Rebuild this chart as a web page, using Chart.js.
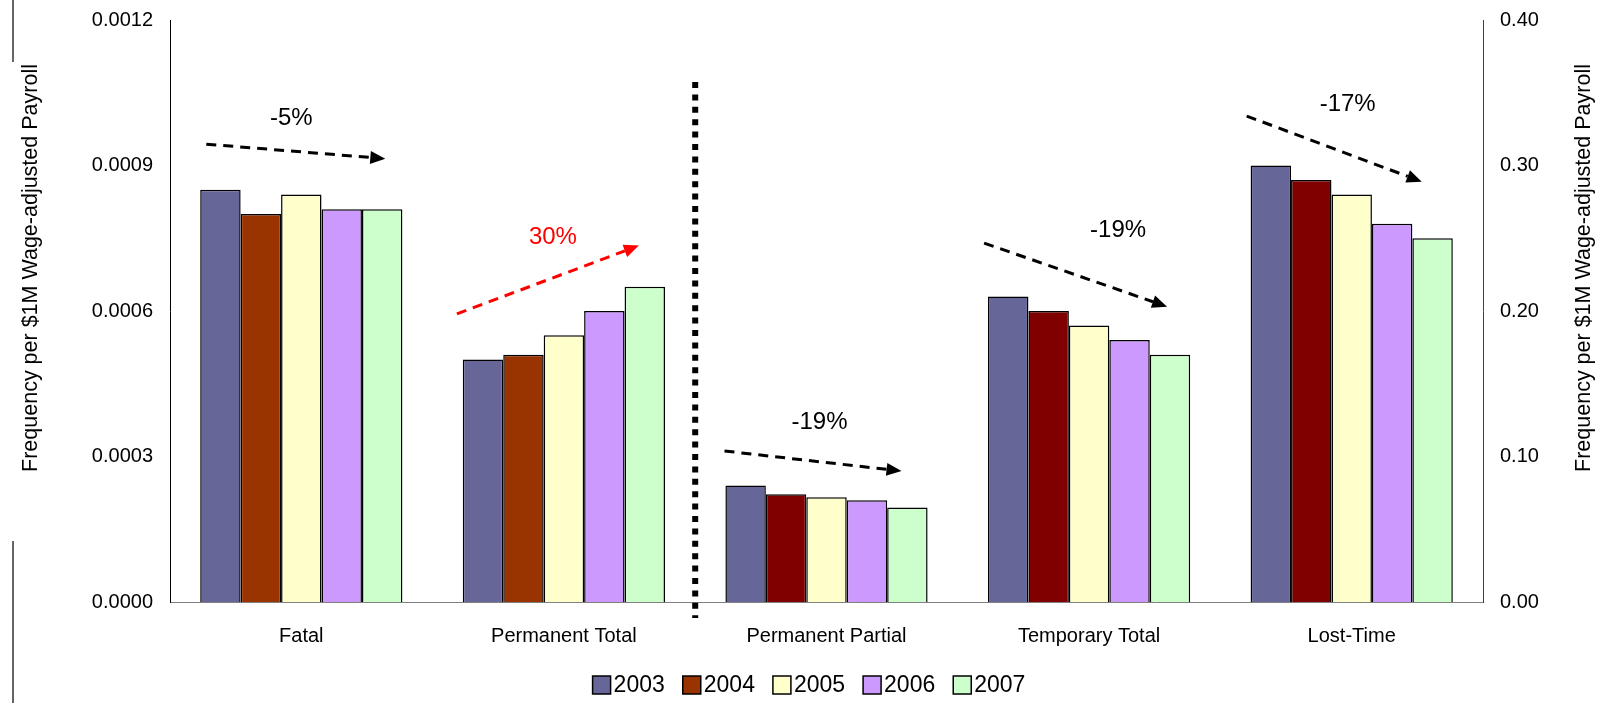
<!DOCTYPE html>
<html lang="en">
<head>
  <meta charset="UTF-8" />
  <title>Claim Frequency by Injury Type</title>
  <script src="https://cdn.jsdelivr.net/npm/chart.js"></script>
  <style>
    html, body {
      margin: 0;
      padding: 0;
      background: #fff;
    }
    .wrap {
      width: 1604px;
      height: 703px;
    }
  </style>
</head>
<body>
  <div class="wrap"><canvas id="freqChart"></canvas></div>

  <script>
    const categories = ['Fatal', 'Permanent Total', 'Permanent Partial', 'Temporary Total', 'Lost-Time'];
    const years = ['2003', '2004', '2005', '2006', '2007'];

    // left axis groups
    const fatal = [0.00085, 0.00080, 0.00084, 0.00081, 0.00081];
    const permanentTotal = [0.00050, 0.00051, 0.00055, 0.00060, 0.00065];
    // right axis groups
    const permanentPartial = [0.080, 0.074, 0.072, 0.070, 0.065];
    const temporaryTotal = [0.210, 0.200, 0.190, 0.180, 0.170];
    const lostTime = [0.300, 0.290, 0.280, 0.260, 0.250];

    const leftTicks = [0, 0.0003, 0.0006, 0.0009, 0.0012];
    const rightTicks = [0, 0.10, 0.20, 0.30, 0.40];
    const trendLabels = ['-5%', '30%', '-19%', '-19%', '-17%'];

    const leftColors = ['#666699', '#993300', '#ffffcc', '#cc99ff', '#ccffcc'];
    const rightColors = ['#666699', '#800000', '#ffffcc', '#cc99ff', '#ccffcc'];
    const FONT = "'Liberation Sans', Arial, sans-serif";

    const datasets = [];
    years.forEach((yr, i) => {
      datasets.push({
        label: yr,
        data: [fatal[i], permanentTotal[i], null, null, null],
        yAxisID: 'y',
        backgroundColor: leftColors[i]
      });
    });
    years.forEach((yr, i) => {
      datasets.push({
        label: yr,
        data: [null, null, permanentPartial[i], temporaryTotal[i], lostTime[i]],
        yAxisID: 'y1',
        backgroundColor: rightColors[i]
      });
    });

    // trend arrows: offsets in px from the category centre, heights in axis units
    const trendNotes = [
      { color: '#000', tx: -10, tv: 0.000998, from: [-95, 0.000944], to: [84, 0.000914] },
      { color: '#ff0000', tx: -11, tv: 0.000752, from: [-107, 0.000594], to: [75, 0.000735] },
      { color: '#000', tx: -7, tv: 0.1232, from: [-102, 0.1038], to: [75, 0.0900] },
      { color: '#000', tx: 29, tv: 0.2557, from: [-105, 0.2467], to: [78, 0.2030] },
      { color: '#000', tx: -4, tv: 0.3423, from: [-105, 0.3340], to: [70, 0.2889] }
    ];

    const decorations = {
      id: 'decorations',
      afterDraw(chart) {
        const ctx = chart.ctx;
        const x = chart.scales.x;
        ctx.save();

        // frame remnants on the left edge
        ctx.strokeStyle = '#333';
        ctx.lineWidth = 1.5;
        ctx.beginPath();
        ctx.moveTo(13, 0); ctx.lineTo(13, 62);
        ctx.moveTo(13, 541); ctx.lineTo(13, 703);
        ctx.stroke();

        // dotted divider between the two axis groups
        const divX = (x.getPixelForValue(1) + x.getPixelForValue(2)) / 2;
        ctx.strokeStyle = '#000';
        ctx.lineWidth = 6;
        ctx.setLineDash([6, 6.4]);
        ctx.beginPath();
        ctx.moveTo(divX, 82);
        ctx.lineTo(divX, 618);
        ctx.stroke();
        ctx.setLineDash([]);

        // trend arrows + labels
        trendNotes.forEach((n, i) => {
          const ys = i < 2 ? chart.scales.y : chart.scales.y1;
          const cx = x.getPixelForValue(i);
          const x1 = cx + n.from[0], y1 = ys.getPixelForValue(n.from[1]);
          const x2 = cx + n.to[0], y2 = ys.getPixelForValue(n.to[1]);
          const ang = Math.atan2(y2 - y1, x2 - x1);
          const head = 15, hw = 6.5;
          const bx = x2 - head * Math.cos(ang), by = y2 - head * Math.sin(ang);
          ctx.strokeStyle = n.color;
          ctx.fillStyle = n.color;
          ctx.lineWidth = 3;
          ctx.setLineDash([10, 7]);
          ctx.beginPath();
          ctx.moveTo(x1, y1);
          ctx.lineTo(bx, by);
          ctx.stroke();
          ctx.setLineDash([]);
          ctx.beginPath();
          ctx.moveTo(x2, y2);
          ctx.lineTo(bx + hw * Math.sin(ang), by - hw * Math.cos(ang));
          ctx.lineTo(bx - hw * Math.sin(ang), by + hw * Math.cos(ang));
          ctx.closePath();
          ctx.fill();

          ctx.font = '24px ' + FONT;
          ctx.textAlign = 'center';
          ctx.textBaseline = 'middle';
          ctx.fillText(trendLabels[i], cx + n.tx, ys.getPixelForValue(n.tv));
        });

        // axis titles
        const axisTitle = 'Frequency per $1M Wage-adjusted Payroll';
        ctx.fillStyle = '#000';
        ctx.font = '21.5px ' + FONT;
        ctx.textAlign = 'center';
        ctx.textBaseline = 'middle';
        [31, 1584].forEach(tx => {
          ctx.save();
          ctx.translate(tx, 268);
          ctx.rotate(-Math.PI / 2);
          ctx.fillText(axisTitle, 0, 0);
          ctx.restore();
        });

        // legend
        ctx.font = '23px ' + FONT;
        ctx.textAlign = 'left';
        const box = 18, gap = 3, spacing = 18;
        const widths = years.map(yr => box + gap + ctx.measureText(yr).width);
        const total = widths.reduce((a, b) => a + b, 0) + spacing * (years.length - 1);
        let lx = 809 - total / 2;
        const ly = 685;
        years.forEach((yr, i) => {
          ctx.fillStyle = leftColors[i];
          ctx.fillRect(lx, ly - box / 2, box, box);
          ctx.strokeStyle = '#000';
          ctx.lineWidth = 1.5;
          ctx.strokeRect(lx, ly - box / 2, box, box);
          ctx.fillStyle = '#000';
          ctx.fillText(yr, lx + box + gap, ly + 1);
          lx += widths[i] + spacing;
        });

        ctx.restore();
      }
    };

    // y axes: fixed widths, and no extra label padding pushing the plot down
    const fitY = w => s => {
      s.width = w;
      s.paddingTop = 0;
      s.paddingBottom = 0;
    };

    new Chart(document.getElementById('freqChart'), {
      type: 'bar',
      data: { labels: categories, datasets: datasets },
      options: {
        responsive: true,
        maintainAspectRatio: false,
        animation: false,
        layout: { padding: { top: 20, left: 0, right: 0, bottom: 0 } },
        datasets: {
          bar: {
            skipNull: true,
            borderColor: '#000',
            borderWidth: 1.5,
            barPercentage: 1.0,
            categoryPercentage: 0.77
          }
        },
        plugins: {
          legend: { display: false },
          tooltip: { enabled: false }
        },
        scales: {
          x: {
            grid: { display: false, drawTicks: false },
            border: { color: '#808080', width: 1 },
            ticks: { color: '#000', padding: 22, font: { family: FONT, size: 20 } },
            afterFit: s => { s.height = 101; s.paddingLeft = 0; s.paddingRight = 0; }
          },
          y: {
            position: 'left',
            min: 0,
            max: 0.0012,
            grid: { display: false, drawTicks: false },
            border: { color: '#000', width: 1 },
            ticks: {
              color: '#000',
              padding: 17,
              font: { family: FONT, size: 20 },
              callback: v => Number(v).toFixed(4)
            },
            afterBuildTicks: s => { s.ticks = leftTicks.map(v => ({ value: v })); },
            afterFit: fitY(170)
          },
          y1: {
            position: 'right',
            min: 0,
            max: 0.40,
            grid: { display: false, drawTicks: false },
            border: { color: '#404040', width: 1 },
            ticks: {
              color: '#000',
              padding: 17,
              font: { family: FONT, size: 20 },
              callback: v => Number(v).toFixed(2)
            },
            afterBuildTicks: s => { s.ticks = rightTicks.map(v => ({ value: v })); },
            afterFit: fitY(121)
          }
        }
      },
      plugins: [decorations]
    });
  </script>
</body>
</html>
